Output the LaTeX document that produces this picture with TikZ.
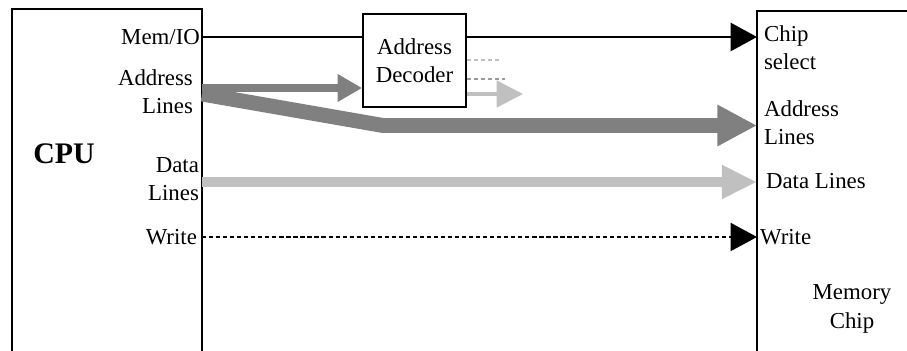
\documentclass[tikz,border=0pt]{standalone}
\usepackage{fontspec}
\setmainfont{Liberation Serif}
\usetikzlibrary{arrows.meta}
\definecolor{busdark}{RGB}{128,128,128}
\definecolor{buslight}{RGB}{192,192,192}
\tikzset{
  lbl/.style={inner sep=1pt,font=\fontsize{13}{16}\selectfont},
  blackhead/.style={-{Triangle[length=15pt,width=16pt]}},
  shortdash/.style={dash pattern=on 2.4pt off 1.6pt},
}
\begin{document}
\begin{tikzpicture}[x=0.02cm,y=-0.02cm]
    \useasboundingbox (0,0) rectangle (907,351);
    % the two chips, open at the bottom
    \draw[line width=1.2pt] (12,351) -- (12,9) -- (202,9) -- (202,351);
    \draw[line width=1.2pt] (907,11) -- (757,11) -- (757,351);
    \node[font=\fontsize{17}{20}\selectfont\bfseries] (cpu) at (64,154) {CPU};
    \node[lbl,align=center] (mem) at (852,309) {Memory\\Chip};
    % decoder
    \node[draw,line width=1pt,minimum width=2.06cm,minimum height=1.86cm,lbl,align=center] (dec) at (414.5,60.5) {Address\\Decoder};
    % pins of the cpu
    \coordinate (cMem) at (202,37);
    \coordinate (cAdr) at (202,88);
    \coordinate (cAdrB) at (202,94);
    \coordinate (cData) at (202,182);
    \coordinate (cWr) at (202,237);
    \node[lbl,anchor=east] (lMem) at (cMem) {Mem/IO};
    \node[lbl,anchor=east,align=right] (lAdr) at (195,92) {Address\\Lines};
    \node[lbl,anchor=east,align=right] (lData) at (201,179) {Data\\Lines};
    \node[lbl,anchor=east] (lWr) at (199,237) {Write};
    % pins of the memory
    \coordinate (mCs) at (757,37);
    \coordinate (mAdr) at (757,125.5);
    \coordinate (mData) at (757,182);
    \coordinate (mWr) at (757,237);
    \coordinate (bend) at (383,125.5);
    \node[lbl,anchor=west,align=left] (rCs) at (762,48) {Chip\\select};
    \node[lbl,anchor=west,align=left] (rAdr) at (762,123) {Address\\Lines};
    \node[lbl,anchor=west] (rData) at (764,181) {Data Lines};
    \node[lbl,anchor=west] (rWr) at (758,237) {Write};
    % decoder outputs
    \coordinate (o1) at (502,60);
    \coordinate (o2) at (505,79);
    \coordinate (o3) at (523,94);
    % signals
    \draw[line width=0.7pt] (cMem) -- (dec.west |- cMem);
    \draw[line width=1.3pt,blackhead] (dec.east |- cMem) -- (mCs);
    \draw[busdark,line width=4pt,-{Triangle[length=14pt,width=15pt]}] (cAdr) -- (dec.west |- cAdr);
    \draw[busdark,line width=8.5pt,line join=bevel,-{Triangle[length=22.5pt,width=22pt]}] (cAdrB) -- (bend) -- (mAdr);
    \draw[buslight,line width=6.2pt,-{Triangle[length=20pt,width=18pt]}] (cData) -- (mData);
    \draw[line width=0.8pt,shortdash,blackhead] (cWr) -- (mWr);
    \draw[buslight,line width=0.8pt,shortdash] (dec.east |- o1) -- (o1);
    \draw[buslight!80!black,line width=1.2pt,shortdash] (dec.east |- o2) -- (o2);
    \draw[buslight,line width=2pt,-{Triangle[length=15pt,width=15pt]}] (dec.east |- o3) -- (o3);
\end{tikzpicture}
\end{document}
